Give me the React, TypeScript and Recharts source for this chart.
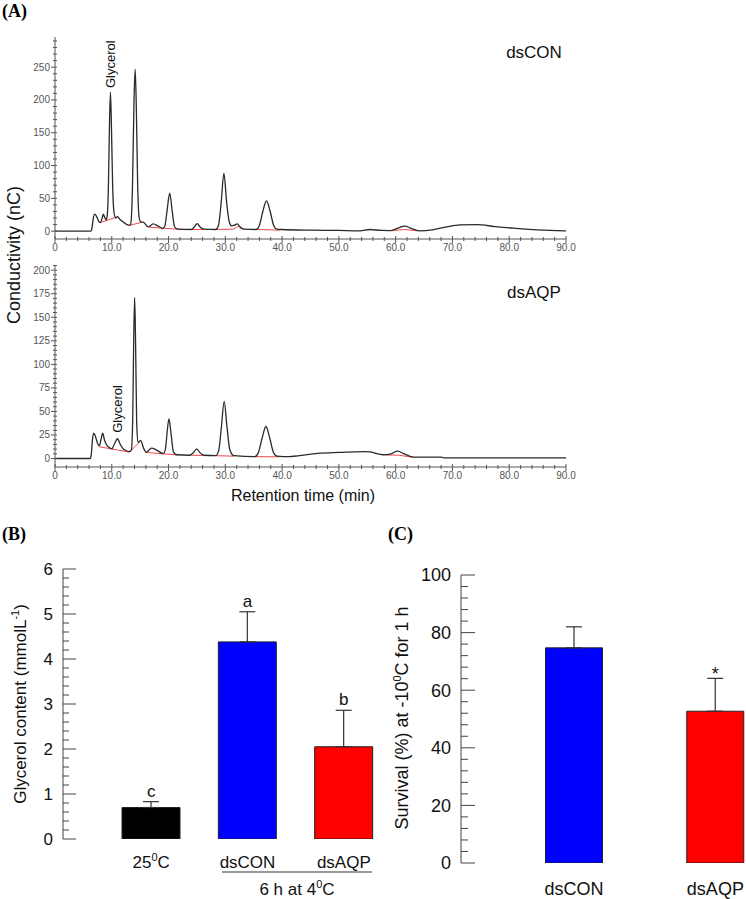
import { LineChart, Line, XAxis, YAxis, BarChart, Bar, Cell, ErrorBar, ReferenceDot } from "recharts";

const SANS = "'Liberation Sans', Arial, sans-serif";
const SERIF = "'Liberation Serif', 'Times New Roman', serif";

// (A) chromatograms, points are [retention time (min), conductivity (nC)]
const conTrace = [
  [0, 0], [6.3, 0], [6.5, 4], [6.75, 20], [7.0, 26], [7.3, 23], [7.7, 15], [8.0, 13], [8.3, 20], [8.5, 26],
  [8.75, 21], [9.0, 17], [9.2, 24], [9.4, 65], [9.6, 165], [9.77, 212], [9.95, 155], [10.15, 70], [10.4, 28],
  [10.7, 20], [11.0, 22], [11.4, 18], [12.15, 13], [12.8, 9.5], [13.2, 9], [13.4, 15], [13.65, 70], [13.92, 200],
  [14.12, 247], [14.32, 190], [14.55, 75], [14.8, 22], [15.1, 14], [15.6, 13.5], [16.4, 6.5], [17.3, 11], [18.2, 7.5],
  [19.0, 4], [19.35, 8], [19.75, 32], [20.2, 58], [20.65, 30], [21.05, 7], [21.6, 3], [24.0, 2.5], [24.5, 6],
  [25.05, 11.5], [25.6, 6], [26.2, 3], [28.3, 2.5], [28.8, 9], [29.25, 42], [29.75, 88], [30.25, 42], [30.7, 14],
  [31.1, 8], [31.6, 9], [32.1, 11], [32.6, 6], [33.2, 3], [35.4, 2.5], [36.0, 9], [36.6, 30], [37.25, 46],
  [37.9, 30], [38.5, 9], [39.1, 3], [40, 2.5], [45, 1.5], [50, 1], [53.7, 0.5], [55.5, 2.5], [57.5, 1], [59, 0.8],
  [60.5, 5], [61.6, 7.6], [62.8, 4], [64.3, 0.3], [66.5, 2], [69, 6.5], [71.3, 9.5], [74.3, 9.8], [77.5, 7],
  [80.7, 4.5], [85, 2], [90, 0.3],
];

const aqpTrace = [
  [0, 0], [6.2, 0], [6.4, 5], [6.6, 20], [6.8, 27], [7.1, 24], [7.5, 16], [7.8, 13.5], [8.1, 20], [8.4, 27],
  [8.7, 20], [9.0, 15.5], [9.5, 12], [10.0, 10.3], [10.5, 16], [11.0, 21], [11.5, 15], [12.15, 9.5], [13.1, 7.4],
  [13.45, 9], [13.68, 40], [13.87, 130], [14.03, 171], [14.2, 120], [14.38, 40], [14.6, 17.4], [15.1, 19],
  [15.6, 11], [16.1, 6.7], [17.0, 11], [17.9, 8.9], [19.07, 5.3], [19.45, 10], [19.75, 28], [20.07, 42], [20.45, 26],
  [20.85, 7], [21.4, 4], [23.7, 3.5], [24.35, 6], [24.95, 10.3], [25.55, 6], [26.2, 3.5], [28.3, 3], [28.85, 9],
  [29.3, 33], [29.8, 60.6], [30.3, 33], [30.8, 9], [31.5, 3], [35.2, 2], [35.8, 6], [36.45, 21], [37.15, 34],
  [37.85, 21], [38.5, 6], [39.1, 2.5], [40.2, 2], [43, 3], [46.7, 5.7], [50, 6.5], [54.3, 7.4], [55.5, 7],
  [57.8, 4], [59.2, 5], [60.3, 7.8], [61.5, 5], [63.1, 1.4], [68.1, 1.4], [68.4, 0.7], [90, 0.7],
];

// integration baselines (red)
const conBaselines = [
  [[8.0, 13], [11.0, 22]],
  [[13.2, 9], [15.3, 13.5]],
  [[16.6, 6], [22.5, 2.5]],
  [[24.0, 2.5], [26.4, 2.5]],
  [[28.3, 2.5], [31.4, 3], [32.4, 8], [33.3, 3]],
  [[35.5, 2.5], [39.8, 1.5]],
  [[59.2, 0.8], [61.6, 2.5], [63.8, 0.5]],
];

const aqpBaselines = [
  [[7.8, 12.5], [13.1, 6.8]],
  [[13.1, 6.8], [15.0, 18]],
  [[16.0, 6.5], [21.5, 3.8]],
  [[23.7, 3.5], [26.2, 3.2]],
  [[28.3, 3], [31.5, 2.5]],
  [[35.3, 2], [39.5, 1.8]],
  [[58.3, 3.8], [60.5, 3.5], [63.1, 1.4]],
];

const conGlycerol = [9.77, 212];
const aqpGlycerol = [11.0, 21];

const timeTicks = Array.from({ length: 46 }, (_, i) => i * 2);
const conTicks = Array.from({ length: 30 }, (_, i) => i * 10);
const aqpTicks = Array.from({ length: 42 }, (_, i) => i * 5);

// (B) glycerol content
const groupsB = ["25°C", "dsCON", "dsAQP"];
const glycerolMean = [0.7, 4.38, 2.05];
const glycerolErr = [0.13, 0.67, 0.81];
const lettersB = ["c", "a", "b"];
const coloursB = ["#000000", "#0000ff", "#ff0000"];
const ticksB = Array.from({ length: 31 }, (_, i) => (i * 2) / 10);

// (C) survival
const groupsC = ["dsCON", "dsAQP"];
const survivalMean = [74.7, 52.7];
const survivalErr = [7.3, 11.4];
const marksC = ["", "*"];
const coloursC = ["#0000ff", "#ff0000"];
const ticksC = Array.from({ length: 26 }, (_, i) => i * 4);

const toPts = (arr: number[][]) => arr.map(([t, v]) => ({ t, v }));

const ChromXTick = (props: any) => {
  const { x, y, payload } = props;
  const v = payload.value;
  const major = v % 10 === 0;
  return (
    <g>
      <line x1={x} x2={x} y1={y - (major ? 3 : 2)} y2={y + (major ? 4 : 2)} stroke="#555" />
      {major && (
        <text x={x} y={y + 12} textAnchor="middle" fontSize={10} fill="#555" fontFamily={SANS}>
          {v === 0 ? "0" : v.toFixed(1)}
        </text>
      )}
    </g>
  );
};

const chromYTick = (every: number) => (props: any) => {
  const { x, y, payload } = props;
  const v = payload.value;
  const major = v % every === 0;
  return (
    <g>
      <line x1={x - (major ? 4 : 2)} x2={x + 2} y1={y} y2={y} stroke="#555" />
      {major && (
        <text x={x - 5} y={y + 3.5} textAnchor="end" fontSize={10} fill="#555" fontFamily={SANS}>
          {v}
        </text>
      )}
    </g>
  );
};

function Chromatogram({ trace, baselines, domain, ticks, every, glycerol, top, xh, lift }: any) {
  return (
    <LineChart width={600} height={235} margin={{ top, right: 34, bottom: 0, left: 0 }}>
      <XAxis
        type="number"
        dataKey="t"
        domain={[0, 90]}
        ticks={timeTicks}
        interval={0}
        allowDataOverflow
        tickLine={false}
        tickSize={0}
        tickMargin={0}
        height={xh}
        axisLine={{ stroke: "#555" }}
        tick={ChromXTick}
      />
      <YAxis
        type="number"
        domain={domain}
        ticks={ticks}
        interval={0}
        allowDataOverflow
        width={55}
        tickLine={false}
        tickSize={0}
        tickMargin={0}
        axisLine={{ stroke: "#555" }}
        tick={chromYTick(every)}
      />
      {baselines.map((seg: number[][], i: number) => (
        <Line
          key={i}
          data={toPts(seg)}
          dataKey="v"
          type="linear"
          dot={false}
          stroke="#f04848"
          strokeWidth={1}
          isAnimationActive={false}
        />
      ))}
      <Line
        data={toPts(trace)}
        dataKey="v"
        type="monotone"
        dot={false}
        stroke="#2a2a2a"
        strokeWidth={1.3}
        isAnimationActive={false}
      />
      <ReferenceDot
        x={glycerol[0]}
        y={glycerol[1]}
        r={0}
        shape={(p: any) => (
          <text
            transform={`translate(${p.cx + 4.5},${p.cy - lift}) rotate(-90)`}
            fontSize={13}
            fill="#111"
            fontFamily={SANS}
          >
            Glycerol
          </text>
        )}
      />
    </LineChart>
  );
}

const barYTick = (isMajor: (v: number) => boolean, majorLen: number, minorLen: number, fs: number) => (props: any) => {
  const { x, y, payload } = props;
  const v = payload.value;
  const major = isMajor(v);
  return (
    <g>
      <line x1={x} x2={x + (major ? majorLen : minorLen)} y1={y} y2={y} stroke="#444" />
      {major && (
        <text x={x - 10} y={y} dy="0.35em" textAnchor="end" fontSize={fs} fill="#111" fontFamily={SANS}>
          {v}
        </text>
      )}
    </g>
  );
};

const catTick = (fs: number, dy: number) => (props: any) => {
  const { x, y, payload } = props;
  const label: string = payload.value;
  if (label.endsWith("°C")) {
    return (
      <text x={x} y={y + dy} textAnchor="middle" fontSize={fs} fill="#111" fontFamily={SANS}>
        {label.replace("°C", "")}
        <tspan dy={-7} fontSize={11}>0</tspan>
        <tspan dy={7}>C</tspan>
      </text>
    );
  }
  return (
    <text x={x} y={y + dy} textAnchor="middle" fontSize={fs} fill="#111" fontFamily={SANS}>
      {label}
    </text>
  );
};

const markShape = (text: string, fs: number, off: number) => (p: any) => (
  <text x={p.cx} y={p.cy - off} textAnchor="middle" fontSize={fs} fill="#111" fontFamily={SANS}>
    {text}
  </text>
);

export default function App() {
  const dataB = groupsB.map((name, i) => ({ name, mean: glycerolMean[i], err: [0, glycerolErr[i]] }));
  const dataC = groupsC.map((name, i) => ({ name, mean: survivalMean[i], err: [0, survivalErr[i]] }));

  return (
    <div
      style={{
        position: "absolute",
        left: 0,
        top: 0,
        width: 746,
        height: 899,
        overflow: "hidden",
        background: "#fff",
      }}
    >
      <div style={{ position: "absolute", left: 0, top: 20 }}>
        <Chromatogram
          trace={conTrace}
          baselines={conBaselines}
          domain={[-12, 296]}
          ticks={conTicks}
          every={50}
          glycerol={conGlycerol}
          top={17}
          xh={16}
          lift={4}
        />
      </div>
      <div style={{ position: "absolute", left: 0, top: 250 }}>
        <Chromatogram
          trace={aqpTrace}
          baselines={aqpBaselines}
          domain={[-9, 205.5]}
          ticks={aqpTicks}
          every={25}
          glycerol={aqpGlycerol}
          top={15}
          xh={18}
          lift={6}
        />
      </div>

      <div style={{ position: "absolute", left: 0, top: 540 }}>
        <BarChart width={400} height={359} data={dataB} margin={{ top: 29, right: 8, bottom: 0, left: 0 }}>
          <XAxis
            dataKey="name"
            axisLine={false}
            tickLine={false}
            tickSize={0}
            tickMargin={0}
            height={60}
            interval={0}
            padding={{ left: 40, right: 0 }}
            tick={catTick(17, 29)}
          />
          <YAxis
            type="number"
            domain={[0, 6]}
            ticks={ticksB}
            interval={0}
            allowDataOverflow
            width={63}
            axisLine={{ stroke: "#444" }}
            tickLine={false}
            tickSize={0}
            tickMargin={0}
            tick={barYTick((v) => Number.isInteger(v), 13, 6, 17)}
          />
          <Bar dataKey="mean" barSize={58} stroke="#222" strokeWidth={1} isAnimationActive={false}>
            {dataB.map((d, i) => (
              <Cell key={d.name} fill={coloursB[i]} />
            ))}
            <ErrorBar dataKey="err" width={8} stroke="#333" strokeWidth={1.2} direction="y" isAnimationActive={false} />
          </Bar>
          {dataB.map((d, i) => (
            <ReferenceDot
              key={d.name}
              x={d.name}
              y={d.mean + glycerolErr[i]}
              r={0}
              shape={markShape(lettersB[i], 17, 5)}
            />
          ))}
        </BarChart>
      </div>

      <div style={{ position: "absolute", left: 400, top: 545 }}>
        <BarChart width={386} height={354} data={dataC} margin={{ top: 30, right: 0, bottom: 0, left: 0 }}>
          <XAxis
            dataKey="name"
            axisLine={false}
            tickLine={false}
            tickSize={0}
            tickMargin={0}
            height={36}
            interval={0}
            padding={{ left: 42.5, right: 0 }}
            tick={catTick(18, 32)}
          />
          <YAxis
            type="number"
            domain={[0, 100]}
            ticks={ticksC}
            interval={0}
            allowDataOverflow
            width={61}
            axisLine={{ stroke: "#444" }}
            tickLine={false}
            tickSize={0}
            tickMargin={0}
            tick={barYTick((v) => v % 20 === 0, 14, 7, 18)}
          />
          <Bar dataKey="mean" barSize={57} stroke="#222" strokeWidth={1} isAnimationActive={false}>
            {dataC.map((d, i) => (
              <Cell key={d.name} fill={coloursC[i]} />
            ))}
            <ErrorBar dataKey="err" width={8} stroke="#333" strokeWidth={1.2} direction="y" isAnimationActive={false} />
          </Bar>
          {dataC.map((d, i) => (
            <ReferenceDot
              key={d.name}
              x={d.name}
              y={d.mean + survivalErr[i]}
              r={0}
              shape={markShape(marksC[i], 18, -2)}
            />
          ))}
        </BarChart>
      </div>

      <svg
        width={746}
        height={899}
        style={{ position: "absolute", left: 0, top: 0, pointerEvents: "none" }}
        fontFamily={SANS}
      >
        <text x={2} y={17} fontSize={18} fontWeight="bold" fontFamily={SERIF}>(A)</text>
        <text x={2} y={540} fontSize={18} fontWeight="bold" fontFamily={SERIF}>(B)</text>
        <text x={388} y={540} fontSize={18} fontWeight="bold" fontFamily={SERIF}>(C)</text>

        <text x={534} y={58} fontSize={17} textAnchor="middle" fill="#111">dsCON</text>
        <text x={534} y={298} fontSize={17} textAnchor="middle" fill="#111">dsAQP</text>
        <text x={303} y={501} fontSize={16} textAnchor="middle" fill="#111">Retention time (min)</text>
        <text transform="translate(20,255) rotate(-90)" fontSize={18} textAnchor="middle" fill="#111">
          Conductivity (nC)
        </text>

        <text transform="translate(26,704) rotate(-90)" fontSize={17} textAnchor="middle" fill="#111">
          Glycerol content (mmolL<tspan dy={-7} fontSize={11}>-1</tspan>
          <tspan dy={7}>)</tspan>
        </text>
        <line x1={222} x2={372} y1={872} y2={872} stroke="#333" strokeWidth={1} />
        <text x={297} y={895} fontSize={17} textAnchor="middle" fill="#111">
          6 h at 4<tspan dy={-7} fontSize={11}>0</tspan>
          <tspan dy={7}>C</tspan>
        </text>

        <text transform="translate(408,718) rotate(-90)" fontSize={18} textAnchor="middle" fill="#111">
          Survival (%) at -10<tspan dy={-7} fontSize={11}>0</tspan>
          <tspan dy={7}>C for 1 h</tspan>
        </text>
      </svg>
    </div>
  );
}
